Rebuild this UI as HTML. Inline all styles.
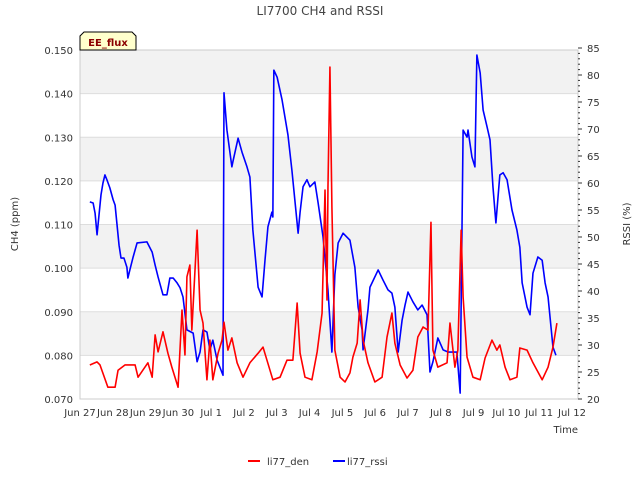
<!DOCTYPE html>
<html><head><meta charset="utf-8"><style>
body{margin:0;background:#fff;}
svg{font-family:"DejaVu Sans","Liberation Sans",sans-serif;}
</style></head><body>
<svg id="chart" width="640" height="480" xmlns="http://www.w3.org/2000/svg">
<text x="320" y="15" text-anchor="middle" font-size="12" fill="#444">LI7700 CH4 and RSSI</text>
<g id="bands"></g>
<g id="grid"></g>
<rect x="80" y="50" width="498" height="349" fill="none" stroke="#ccc"/>
<g id="xticks"></g><g id="lticks"></g><g id="rticks"></g>
<g id="series"></g>
<text transform="translate(18,224) rotate(-90)" text-anchor="middle" font-size="10" fill="#333">CH4 (ppm)</text>
<text transform="translate(630,224) rotate(-90)" text-anchor="middle" font-size="10" fill="#333">RSSI (%)</text>
<text x="578" y="433" text-anchor="end" font-size="10" fill="#333">Time</text>
<g>
<path d="M80,50 L80,36 L84,32 L132,32 L136,36 L136,50 Z" fill="#ffffcc" stroke="#000" stroke-width="1"/>
<text x="108" y="46" text-anchor="middle" font-size="10" font-weight="bold" fill="#8b0000">EE_flux</text></g>
<g>
<g><line x1="248" y1="461" x2="260" y2="461" stroke="#f00" stroke-width="2"/><text x="267" y="465" font-size="10" fill="#333">li77_den</text></g>
<g><line x1="333" y1="461" x2="345" y2="461" stroke="#00f" stroke-width="2"/><text x="347" y="465" font-size="10" fill="#333">li77_rssi</text></g>
</g>
</svg>
<script>
const xLabels=["Jun 27","Jun 28","Jun 29","Jun 30","Jul 1","Jul 2","Jul 3","Jul 4","Jul 5","Jul 6","Jul 7","Jul 8","Jul 9","Jul 10","Jul 11","Jul 12"];
const ch4Ticks=[0.070,0.080,0.090,0.100,0.110,0.120,0.130,0.140,0.150];
const rssiTicks=[20,25,30,35,40,45,50,55,60,65,70,75,80,85];
const denDays=[0.30,0.52,0.61,0.85,1.07,1.16,1.37,1.68,1.77,2.07,2.20,2.29,2.38,2.53,2.68,2.80,2.99,3.11,3.20,3.26,3.35,3.41,3.57,3.66,3.75,3.87,3.96,4.05,4.21,4.33,4.39,4.51,4.63,4.79,4.97,5.18,5.43,5.58,5.70,5.88,6.10,6.31,6.49,6.62,6.71,6.86,7.07,7.23,7.38,7.47,7.53,7.56,7.62,7.68,7.77,7.93,8.08,8.23,8.32,8.45,8.54,8.63,8.78,8.99,9.21,9.36,9.51,9.60,9.76,9.97,10.15,10.30,10.46,10.61,10.70,10.76,10.91,11.19,11.28,11.43,11.52,11.62,11.68,11.80,11.98,12.20,12.35,12.56,12.71,12.80,12.96,13.11,13.32,13.41,13.63,13.81,14.09,14.27,14.42,14.54];
const denVals=[0.0778,0.0785,0.0778,0.0727,0.0727,0.0766,0.0778,0.0778,0.0750,0.0783,0.0750,0.0847,0.0808,0.0854,0.0805,0.0773,0.0727,0.0904,0.0801,0.0980,0.1007,0.0858,0.1087,0.0904,0.0874,0.0744,0.0835,0.0744,0.0805,0.0835,0.0876,0.0812,0.0840,0.0783,0.0750,0.0783,0.0805,0.0819,0.0789,0.0744,0.0750,0.0789,0.0789,0.0920,0.0805,0.0750,0.0744,0.0808,0.0897,0.1179,0.0927,0.1186,0.1461,0.1140,0.0812,0.0750,0.0739,0.0760,0.0796,0.0828,0.0927,0.0835,0.0783,0.0739,0.0750,0.0842,0.0897,0.0828,0.0778,0.0748,0.0766,0.0842,0.0865,0.0858,0.1105,0.0812,0.0773,0.0783,0.0874,0.0773,0.0812,0.1087,0.0934,0.0796,0.0750,0.0744,0.0794,0.0835,0.0812,0.0824,0.0773,0.0744,0.0750,0.0817,0.0812,0.0783,0.0744,0.0773,0.0819,0.0874];
const rssiDays=[0.30,0.40,0.46,0.52,0.58,0.64,0.70,0.76,0.82,0.91,1.01,1.07,1.13,1.19,1.25,1.34,1.43,1.46,1.52,1.62,1.74,2.04,2.20,2.29,2.38,2.53,2.65,2.74,2.84,2.96,3.05,3.14,3.26,3.45,3.57,3.66,3.75,3.87,3.96,4.05,4.18,4.36,4.39,4.48,4.63,4.66,4.82,4.94,5.09,5.18,5.27,5.43,5.55,5.64,5.73,5.85,5.88,5.91,6.01,6.16,6.34,6.46,6.65,6.71,6.80,6.92,7.01,7.16,7.26,7.41,7.56,7.68,7.77,7.87,8.02,8.23,8.38,8.48,8.60,8.63,8.78,8.84,9.09,9.24,9.39,9.51,9.60,9.70,9.82,9.91,10.00,10.15,10.30,10.43,10.58,10.67,10.76,10.91,11.07,11.22,11.49,11.59,11.68,11.80,11.83,11.95,12.04,12.10,12.20,12.29,12.41,12.50,12.59,12.68,12.80,12.90,13.02,13.17,13.32,13.41,13.48,13.63,13.72,13.81,13.96,14.09,14.18,14.27,14.42,14.51];
const rssiVals=[56.5,56.3,54.4,50.4,54.1,57.8,60.0,61.5,60.6,59.1,56.9,55.9,52.2,48.5,46.1,46.1,44.4,42.4,43.9,46.3,48.9,49.1,47.2,44.8,42.6,39.3,39.3,42.4,42.4,41.5,40.6,38.9,32.8,32.2,26.9,28.7,32.8,32.4,29.1,30.9,27.2,24.4,76.7,69.8,63.0,63.9,68.3,65.7,63.0,61.1,51.3,40.7,38.9,45.7,51.9,54.6,53.7,80.9,79.6,75.4,68.9,62.4,50.7,54.6,59.3,60.6,59.3,60.2,56.3,50.0,40.2,28.7,43.0,48.9,50.7,49.4,44.4,37.0,32.8,29.1,36.5,40.7,43.9,42.0,40.2,39.6,37.0,28.7,34.6,37.4,39.8,38.0,36.5,37.4,35.6,25.0,26.9,31.3,29.1,28.7,28.7,21.1,69.8,68.5,69.8,64.8,63.0,83.7,80.4,73.5,70.4,68.0,59.3,52.6,61.5,61.9,60.6,55.0,51.3,48.1,41.5,37.0,35.6,43.3,46.3,45.7,41.5,38.9,29.6,28.1];

const NS="http://www.w3.org/2000/svg";
const X0=80,X1=578,Y0=399,Y1=50,DAYW=32.8;
const xs=d=>X0+d*DAYW;
const yL=v=>Y0-(v-0.070)/0.080*(Y0-Y1);
const yR=v=>Y0-(v-20)*5.4;
function mk(tag,parent,attrs){const e=document.createElementNS(NS,tag);for(const k in attrs)e.setAttribute(k,attrs[k]);document.getElementById(parent).appendChild(e);return e;}
for(let i=0;i<ch4Ticks.length-1;i++){
  if(i%2===1){const b=mk('rect','bands',{x:X0,y:yL(ch4Ticks[i+1]),width:X1-X0,height:yL(ch4Ticks[i])-yL(ch4Ticks[i+1]),fill:'#f2f2f2'});
  
  }
}
ch4Ticks.forEach(v=>{
  const g=mk('line','grid',{x1:X0,x2:X1,y1:yL(v),y2:yL(v),stroke:'#ddd'});
  
  
  const t=mk('text','lticks',{x:73,y:yL(v)+4,'text-anchor':'end','font-size':10,fill:'#333'});
  
  
  t.textContent=v.toFixed(3);
});
rssiTicks.forEach(v=>{
  const t=mk('text','rticks',{x:587,y:yR(v)+4,'font-size':10,fill:'#333'});
  
  
  t.textContent=v;
});
for(let v=20;v<=85;v++){
  const m=mk('line','rticks',{x1:X1,x2:X1+(v%5===0?4:2),y1:yR(v),y2:yR(v),stroke:'#333'});
  
  
}
xLabels.forEach((l,i)=>{
  const t=mk('text','xticks',{x:xs(i),y:416,'text-anchor':'middle','font-size':10,fill:'#333'});
  
  
  t.textContent=l;
});
const pb=mk('polyline','series',{fill:'none',stroke:'#00f','stroke-width':1.6,'stroke-linejoin':'round',points:rssiDays.map((d,i)=>xs(d)+','+yR(rssiVals[i])).join(' ')});


const pr=mk('polyline','series',{fill:'none',stroke:'#f00','stroke-width':1.6,'stroke-linejoin':'round',points:denDays.map((d,i)=>xs(d)+','+yL(denVals[i])).join(' ')});


</script>
</body></html>
